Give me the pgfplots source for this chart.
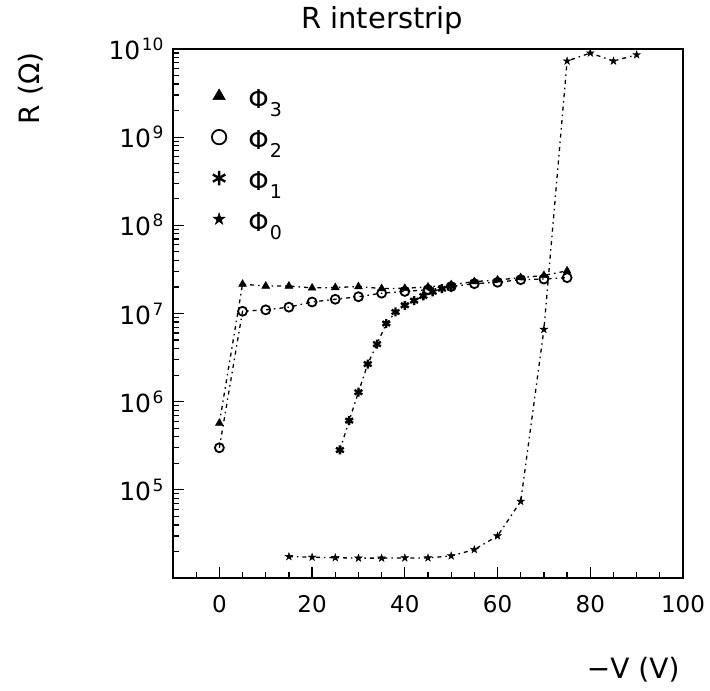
\documentclass[border=0pt]{standalone}
\usepackage{pgfplots}
\pgfplotsset{compat=1.18}
\usepackage{fontspec}
\setmainfont{DejaVu Sans}
\newcommand{\dec}[1]{10\kern1.5pt\raisebox{9pt}{\fontsize{17}{17}\selectfont #1}}
\newcommand{\phisub}[1]{Φ\kern1pt\raisebox{-8pt}{\fontsize{19}{19}\selectfont #1}}
% filled five-pointed star
\pgfdeclareplotmark{fstar}{%
  \pgfpathmoveto{\pgfpointpolar{90}{\pgfplotmarksize}}%
  \pgfpathlineto{\pgfpointpolar{234}{\pgfplotmarksize}}%
  \pgfpathlineto{\pgfpointpolar{18}{\pgfplotmarksize}}%
  \pgfpathlineto{\pgfpointpolar{162}{\pgfplotmarksize}}%
  \pgfpathlineto{\pgfpointpolar{306}{\pgfplotmarksize}}%
  \pgfpathclose\pgfusepathqfillstroke}
\pgfplotsset{rootline/.style={black, line width=1.3pt,
  dash pattern=on 4pt off 4pt on 1.5pt off 4pt}}
\begin{document}
\begin{tikzpicture}
\path[use as bounding box] (0,0) rectangle (710pt,691pt);
\begin{axis}[
  scale only axis, at={(173pt,113pt)}, anchor=south west,
  width=510pt, height=529pt,
  xmin=-10, xmax=100, ymode=log, ymin=1e4, ymax=1e10,
  axis line style={line width=1.6pt},
  tick pos=left, tick align=inside,
  xtick={0,20,...,100},
  minor xtick={-5,5,10,15,25,30,35,45,50,55,65,70,75,85,90,95},
  ytick={1e5,1e6,1e7,1e8,1e9,1e10},
  yticklabels={\dec{5},\dec{6},\dec{7},\dec{8},\dec{9},\dec{10}},
  minor ytick={2e4,3e4,4e4,5e4,6e4,7e4,8e4,9e4,
    2e5,3e5,4e5,5e5,6e5,7e5,8e5,9e5,
    2e6,3e6,4e6,5e6,6e6,7e6,8e6,9e6,
    2e7,3e7,4e7,5e7,6e7,7e7,8e7,9e7,
    2e8,3e8,4e8,5e8,6e8,7e8,8e8,9e8,
    2e9,3e9,4e9,5e9,6e9,7e9,8e9,9e9},
  major tick length=11pt, minor tick length=6pt,
  every tick/.style={black, line width=1.2pt},
  /pgf/number format/assume math mode=true,
  xticklabel style={font=\fontsize{23}{23}\selectfont, yshift=-14pt},
  yticklabel style={font=\fontsize{25}{25}\selectfont, xshift=-6pt},
  title={R interstrip},
  title style={font=\fontsize{29}{29}\selectfont, anchor=base,
    at={(rel axis cs:0.41,1.028)}},
  xlabel={−V (V)},
  xlabel style={font=\fontsize{28}{28}\selectfont, anchor=base east,
    at={(rel axis cs:1,-0.19)}},
  ylabel={R (Ω)},
  ylabel style={font=\fontsize{28}{28}\selectfont,
    anchor=base east, at={(rel axis cs:-0.261,1)}},
  clip=false,
  legend cell align=left,
  legend style={draw=none, fill=none, at={(rel axis cs:0.07,0.934)},
    anchor=north west, row sep=7pt, column sep=22pt,
    font=\fontsize{26}{26}\selectfont,
    nodes={text height=22pt, text depth=12pt, inner sep=0pt}},
  legend image code/.code={\draw[#1, only marks,
    every mark/.append style={scale=1.6}] plot coordinates {(0pt,7pt)};},
]
\addplot[rootline, mark=triangle*, mark size=4.5pt,
  mark options={solid, fill=black, line width=0.5pt}] coordinates {
  (0,5.7e5) (5,2.15e7) (10,2.05e7) (15,2.05e7) (20,1.95e7) (25,1.97e7)
  (30,2.02e7) (35,1.92e7) (40,1.93e7) (45,2.0e7) (50,2.12e7) (55,2.3e7)
  (60,2.4e7) (65,2.55e7) (70,2.7e7) (75,3.05e7)};
\addlegendentry{\phisub{3}}
\addplot[rootline, mark=o, mark size=4.5pt,
  mark options={solid, fill=white, line width=1.8pt}] coordinates {
  (0,3.0e5) (5,1.06e7) (10,1.1e7) (15,1.18e7) (20,1.35e7) (25,1.45e7)
  (30,1.55e7) (35,1.7e7) (40,1.78e7) (45,1.86e7) (50,2.02e7) (55,2.18e7)
  (60,2.26e7) (65,2.42e7) (70,2.46e7) (75,2.55e7)};
\addlegendentry{\phisub{2}}
\addplot[rootline, mark=asterisk, mark size=4.5pt,
  mark options={solid, line width=2.4pt}] coordinates {
  (26,2.83e5) (28,6.1e5) (30,1.28e6) (32,2.67e6) (34,4.5e6) (36,7.7e6)
  (38,1.04e7) (40,1.24e7) (42,1.4e7) (44,1.58e7) (46,1.76e7) (48,1.91e7)
  (50,2.04e7)};
\addlegendentry{\phisub{1}}
\addplot[rootline, mark=fstar, mark size=4pt,
  mark options={solid, fill=black, line width=0.4pt}] coordinates {
  (15,1.75e4) (20,1.72e4) (25,1.7e4) (30,1.68e4) (35,1.68e4) (40,1.69e4)
  (45,1.69e4) (50,1.78e4) (55,2.1e4) (60,3.0e4) (65,7.4e4) (70,6.6e6)
  (75,7.3e9) (80,9.0e9) (85,7.3e9) (90,8.6e9)};
\addlegendentry{\phisub{0}}
\end{axis}
\end{tikzpicture}
\end{document}
